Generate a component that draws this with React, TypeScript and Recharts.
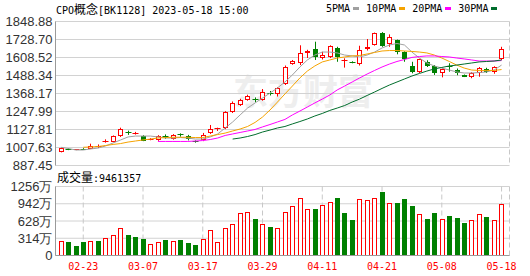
import React from 'react';
import { ComposedChart, Bar, Line, XAxis, YAxis, CartesianGrid } from 'recharts';

const dates = ['02-20','02-21','02-22','02-23','02-24','02-27','02-28','03-01','03-02','03-03','03-06','03-07','03-08','03-09','03-10','03-13','03-14','03-15','03-16','03-17','03-20','03-21','03-22','03-23','03-24','03-27','03-28','03-29','03-30','03-31','04-03','04-04','04-06','04-07','04-10','04-11','04-12','04-13','04-14','04-17','04-18','04-19','04-20','04-21','04-24','04-25','04-26','04-27','04-28','05-04','05-05','05-08','05-09','05-10','05-11','05-12','05-15','05-16','05-17','05-18'];

const opens = [979,997,992,999,1000,1008,1048,1046,1082,1110,1098,1086,1060,1058,1082,1064,1095,1084,1050,1058,1102,1130,1136,1243,1291,1325,1330,1325,1372,1363,1431,1563,1571,1638,1663,1603,1612,1674,1583,1578,1563,1663,1692,1770,1697,1725,1647,1552,1514,1580,1550,1502,1551,1525,1492,1476,1507,1531,1510,1596];
const highs = [1006,1002,997,1003,1033,1028,1062,1088,1140,1120,1112,1090,1070,1090,1095,1097,1102,1092,1055,1105,1158,1140,1250,1315,1333,1360,1342,1398,1385,1410,1555,1592,1690,1660,1714,1647,1690,1680,1603,1583,1687,1732,1775,1778,1763,1728,1650,1580,1600,1590,1558,1535,1570,1535,1495,1510,1545,1540,1550,1680];
const lows = [975,990,990,992,997,1004,1040,1042,1078,1092,1094,1050,1056,1052,1066,1060,1080,1055,1040,1050,1098,1118,1130,1238,1285,1320,1310,1320,1355,1348,1425,1560,1558,1605,1592,1595,1605,1580,1541,1570,1555,1655,1688,1680,1680,1630,1580,1503,1505,1545,1492,1476,1514,1490,1478,1470,1480,1505,1500,1592];
const closes = [1003,994,995,995,1020,1018,1052,1084,1131,1104,1104,1053,1064,1084,1078,1091,1089,1062,1046,1091,1129,1135,1247,1307,1325,1353,1322,1380,1366,1403,1547,1585,1637,1653,1614,1625,1682,1610,1590,1575,1659,1676,1770,1687,1743,1647,1596,1514,1596,1554,1503,1531,1546,1503,1481,1503,1540,1514,1547,1663];

const volumes = [2710000,2530000,1810000,2530000,2710000,2710000,3190000,3790000,5000000,3790000,3430000,3070000,2110000,2530000,2890000,2710000,2890000,2230000,1990000,3010000,4640000,2530000,5000000,5780000,7650000,7950000,6690000,5780000,5240000,5000000,7890000,9040000,10420000,8430000,8490000,9220000,9760000,10480000,7650000,6500000,10240000,10120000,10420000,11570000,9520000,9580000,10300000,9040000,7590000,6690000,7770000,6630000,7230000,6870000,5960000,6450000,7590000,7050000,6450000,9461357];
const volumeUp = [1,0,0,0,1,0,1,1,1,0,0,0,1,1,0,1,0,0,0,1,1,1,1,1,1,1,0,1,0,1,1,1,1,1,0,1,1,0,0,0,1,1,1,0,1,0,0,0,1,0,0,1,0,0,0,1,1,0,1,1];

const ma5 = [1009,1001,991,991,998,1004,1018,1038,1058,1078,1084,1084,1084,1078,1071,1071,1074,1071,1064,1064,1078,1098,1138,1178,1225,1271,1305,1338,1371,1405,1445,1492,1545,1592,1625,1645,1645,1639,1625,1619,1612,1625,1645,1672,1692,1702,1692,1645,1605,1572,1552,1538,1525,1512,1505,1505,1508,1512,1525,1558];
const ma10 = [null,null,null,1009,1011,1014,1021,1028,1034,1044,1051,1058,1064,1071,1074,1076,1076,1076,1074,1074,1084,1094,1104,1118,1131,1148,1175,1211,1258,1311,1365,1418,1472,1518,1552,1579,1592,1605,1612,1619,1622,1632,1642,1652,1655,1655,1652,1649,1645,1639,1625,1605,1582,1558,1538,1525,1522,1522,1522,1528];
const ma20 = [null,null,null,null,null,null,null,null,null,null,null,null,null,1048,1048,1048,1048,1048,1051,1054,1061,1071,1088,1098,1108,1118,1128,1145,1161,1178,1195,1225,1251,1278,1305,1331,1358,1392,1418,1445,1472,1498,1522,1545,1565,1582,1595,1609,1615,1619,1619,1615,1612,1605,1599,1592,1585,1585,1585,1588];
const ma30 = [null,null,null,null,null,null,null,null,null,null,null,null,null,null,null,null,null,null,null,null,null,null,null,1064,1071,1081,1094,1111,1124,1138,1148,1165,1181,1198,1218,1235,1255,1271,1288,1311,1331,1355,1378,1402,1425,1445,1465,1485,1502,1518,1532,1542,1552,1558,1565,1572,1579,1582,1585,1592];

const dateTicks = ['02-23','03-07','03-17','03-29','04-11','04-21','05-08','05-18'];
const priceTicks = [887.45,1007.63,1127.81,1247.99,1368.17,1488.34,1608.52,1728.70,1848.88];
const volumeTicks = [0,3140000,6280000,9420000,12560000];

const RED = '#ff0000';
const GREEN = '#008000';
const maDefs = [
  { key: 'ma5', label: '5PMA', color: '#a0a0a0' },
  { key: 'ma10', label: '10PMA', color: '#f5a300' },
  { key: 'ma20', label: '20PMA', color: '#ff00ff' },
  { key: 'ma30', label: '30PMA', color: '#006d2c' },
];

const rows = dates.map((d, i) => ({
  date: d, open: opens[i], high: highs[i], low: lows[i], close: closes[i],
  vol: volumes[i], volUp: volumeUp[i] === 1,
  ma5: ma5[i], ma10: ma10[i], ma20: ma20[i], ma30: ma30[i],
}));

const MONO = '"DejaVu Sans Mono", monospace';
const CJK = '"Noto Sans CJK SC", sans-serif';
const SANS = '"Liberation Sans", Arial, sans-serif';
const BORDER = '#9a9a9a';
const GRID = '#d2d2d2';

const Candle = (p: any) => {
  const { x, y, width, height, payload } = p;
  if (x == null || y == null || !payload) return null;
  const { open, close, high, low } = payload;
  const span = high - low;
  const py = (v: number) => (span === 0 ? y : y + ((high - v) / span) * height);
  const cx = Math.round(x + width / 2) + 0.5;
  const up = close >= open;
  const color = up ? RED : GREEN;
  const t = Math.round(py(Math.max(open, close)));
  const b = Math.round(py(Math.min(open, close)));
  const hy = py(high);
  const ly = py(low);
  if (b - t <= 1) {
    return (
      <g>
        <line x1={cx} x2={cx} y1={hy} y2={ly} stroke={color} strokeWidth={1} />
        <line x1={cx - 3} x2={cx + 3} y1={t + 0.5} y2={t + 0.5} stroke={color} strokeWidth={1} />
      </g>
    );
  }
  if (up) {
    return (
      <g>
        <line x1={cx} x2={cx} y1={hy} y2={t} stroke={color} strokeWidth={1} />
        <line x1={cx} x2={cx} y1={b} y2={ly} stroke={color} strokeWidth={1} />
        <rect x={cx - 2} y={t + 0.5} width={4} height={b - t - 1} fill="#ffffff" stroke={color} strokeWidth={1} />
      </g>
    );
  }
  return (
    <g>
      <line x1={cx} x2={cx} y1={hy} y2={ly} stroke={color} strokeWidth={1} />
      <rect x={cx - 2.5} y={t} width={5} height={b - t} fill={color} />
    </g>
  );
};

const VolBar = (p: any) => {
  const { x, y, width, height, payload } = p;
  if (x == null || y == null || !payload) return null;
  const cx = Math.round(x + width / 2) + 0.5;
  const t = Math.round(y);
  const b = Math.round(y + height);
  if (payload.volUp) {
    return <rect x={cx - 2} y={t + 0.5} width={4} height={Math.max(b - t - 1, 0)} fill="#ffffff" stroke={RED} strokeWidth={1} />;
  }
  return <rect x={cx - 2.5} y={t} width={5} height={b - t} fill={GREEN} />;
};

const DateTick = (p: any) => (
  <text x={p.x} y={p.y + 14.5} textAnchor="middle" fill={RED} fontSize={10} fontFamily={MONO}>
    {p.payload.value}
  </text>
);

const fmtVol = (v: number) => (v === 0 ? '0' : `${Math.round(v / 10000)}万`);
const pad = { left: 1.6, right: 4.2 };
const yTick = { fontSize: 13, fill: '#333333', fontFamily: SANS };

export default function App() {
  return (
    <div style={{ position: 'absolute', left: 0, top: 0, width: 530, height: 276, background: '#ffffff', overflow: 'hidden' }}>
      <div style={{ position: 'absolute', left: 233, top: 70, fontFamily: CJK, fontSize: 35, fontWeight: 700, color: '#eeeeee', whiteSpace: 'nowrap', lineHeight: '40px' }}>
        东方财富
      </div>
      <div style={{ position: 'absolute', left: 0, top: 0 }}>
        <ComposedChart width={530} height={178} data={rows} margin={{ top: 21.5, right: 20.5, bottom: 12.5, left: 0 }}>
          <CartesianGrid vertical={false} stroke={GRID} />
          <CartesianGrid horizontal={false} stroke="#c8c8c8" strokeDasharray="5 3" />
          <XAxis dataKey="date" ticks={dateTicks} interval={0} padding={pad} height={0} tick={false} tickLine={false} axisLine={{ stroke: BORDER }} />
          <XAxis xAxisId="top" orientation="top" dataKey="date" padding={pad} height={0} tick={false} tickLine={false} axisLine={{ stroke: BORDER }} />
          <YAxis domain={[887.45, 1848.88]} ticks={priceTicks} interval={0} width={55.5} tickSize={0} tickMargin={3} tickLine={false} axisLine={{ stroke: BORDER }} tick={yTick} tickFormatter={(v: number) => v.toFixed(2)} allowDataOverflow />
          <YAxis yAxisId="r" orientation="right" domain={[887.45, 1848.88]} width={0} tick={false} tickLine={false} axisLine={{ stroke: BORDER }} />
          {maDefs.map((m) => (
            <Line key={m.key} dataKey={m.key} stroke={m.color} strokeWidth={1} dot={false} activeDot={false} isAnimationActive={false} connectNulls={false} type="linear" />
          ))}
          <Bar dataKey={(d: any) => [d.low, d.high]} shape={<Candle />} barSize={5} isAnimationActive={false} />
        </ComposedChart>
      </div>
      <div style={{ position: 'absolute', left: 0, top: 0 }}>
        <ComposedChart width={530} height={276} data={rows} margin={{ top: 186.5, right: 20.5, bottom: 0, left: 0 }}>
          <CartesianGrid vertical={false} stroke={GRID} />
          <CartesianGrid horizontal={false} stroke="#c8c8c8" strokeDasharray="5 3" />
          <XAxis dataKey="date" ticks={dateTicks} interval={0} padding={pad} height={20.5} tickSize={0} tickMargin={0} tickLine={false} axisLine={{ stroke: BORDER }} tick={<DateTick />} />
          <XAxis xAxisId="top" orientation="top" dataKey="date" padding={pad} height={0} tick={false} tickLine={false} axisLine={{ stroke: BORDER }} />
          <YAxis domain={[0, 12560000]} ticks={volumeTicks} interval={0} width={55.5} tickSize={0} tickMargin={3} tickLine={false} axisLine={{ stroke: BORDER }} tick={yTick} tickFormatter={fmtVol} />
          <YAxis yAxisId="r" orientation="right" domain={[0, 12560000]} width={0} tick={false} tickLine={false} axisLine={{ stroke: BORDER }} />
          <Bar dataKey="vol" shape={<VolBar />} barSize={5} isAnimationActive={false} />
        </ComposedChart>
      </div>
      <div style={{ position: 'absolute', left: 56, top: 2, fontFamily: MONO, fontSize: 10, lineHeight: '13px', color: '#000', whiteSpace: 'nowrap' }}>
        CPO<span style={{ fontFamily: CJK, fontSize: 12 }}>概念</span>[BK1128] 2023-05-18 15:00
      </div>
      <div style={{ position: 'absolute', left: 326, top: 2, display: 'flex', alignItems: 'center', fontFamily: MONO, fontSize: 10, lineHeight: '13px', color: '#000', whiteSpace: 'nowrap' }}>
        {maDefs.map((m) => (
          <React.Fragment key={m.key}>
            <span>{m.label}</span>
            <span style={{ display: 'inline-block', width: 6, height: 3, background: m.color, marginLeft: 3, marginRight: 7 }} />
          </React.Fragment>
        ))}
      </div>
      <div style={{ position: 'absolute', left: 57, top: 170, fontFamily: MONO, fontSize: 10, lineHeight: '14px', color: '#000', whiteSpace: 'nowrap' }}>
        <span style={{ fontFamily: CJK, fontSize: 12 }}>成交量</span>:9461357
      </div>
    </div>
  );
}
